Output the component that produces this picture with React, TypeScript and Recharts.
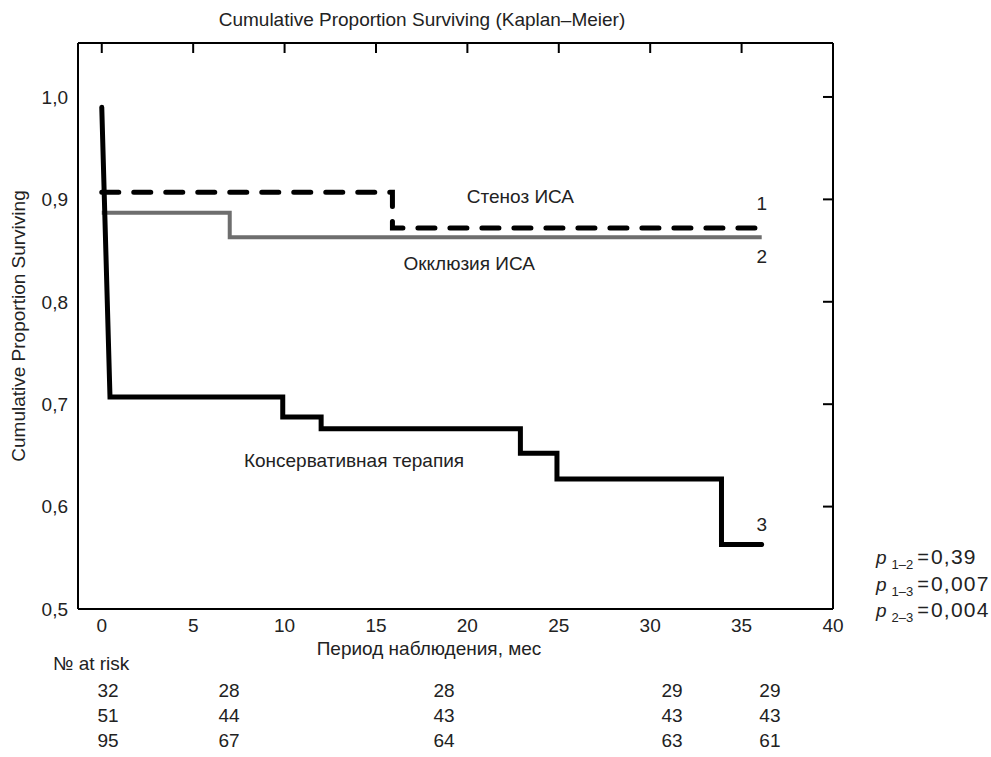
import {
    LineChart,
    Line,
    XAxis,
    YAxis,
    ReferenceDot,
} from "recharts";

// ────────────────────────────────────────────────────────────────────────────────
// Data (read off the Kaplan–Meier plot)
// ────────────────────────────────────────────────────────────────────────────────

// 1 — Стеноз ИСА (dashed)
const stenosisT = [0, 15.9, 15.9, 35.8];
const stenosisS = [0.907, 0.907, 0.872, 0.872];

// 2 — Окклюзия ИСА (grey)
const occlusionT = [0, 7.0, 7.0, 36.1];
const occlusionS = [0.887, 0.887, 0.863, 0.863];

// 3 — Консервативная терапия (black)
const conservT = [0, 0.45, 9.9, 9.9, 12.0, 12.0, 22.9, 22.9, 24.9, 24.9, 33.9, 33.9, 36.1];
const conservS = [0.99, 0.707, 0.707, 0.6875, 0.6875, 0.676, 0.676, 0.652, 0.652, 0.627, 0.627, 0.563, 0.563];

const xTicks = [0, 5, 10, 15, 20, 25, 30, 35, 40];
const yTicks = [0.5, 0.6, 0.7, 0.8, 0.9, 1.0];

const riskTimes = [0.34, 6.96, 18.72, 31.19, 36.55];
const riskStenosis = [32, 28, 28, 29, 29];
const riskOcclusion = [51, 44, 43, 43, 43];
const riskConserv = [95, 67, 64, 63, 61];

const pLabels = ["1–2", "1–3", "2–3"];
const pValues = ["0,39", "0,007", "0,004"];

// ────────────────────────────────────────────────────────────────────────────────
// Layout
// ────────────────────────────────────────────────────────────────────────────────

const W = 991;
const H = 757;
const PLOT_LEFT = 78;
const PLOT_RIGHT = 833;
const PLOT_TOP = 43;
const PLOT_BOTTOM = 609;
const X_DOMAIN: [number, number] = [-1.3, 40];
const Y_DOMAIN: [number, number] = [0.5, 1.0527];
const FONT = "'Liberation Sans', Arial, Helvetica, sans-serif";
const INK = "#222";
const FS = 19;

const toPoints = (t: number[], s: number[]) => t.map((x, i) => ({ t: x, s: s[i] }));

const xPx = (t: number) =>
    PLOT_LEFT + ((t - X_DOMAIN[0]) / (X_DOMAIN[1] - X_DOMAIN[0])) * (PLOT_RIGHT - PLOT_LEFT);

const comma = (v: number) => v.toFixed(1).replace(".", ",");

const NoTick = () => <g />;

function CurveLabel(text: string) {
    return (props: any) => {
        const vb = props.viewBox || {};
        const cx = vb.cx ?? vb.x;
        const cy = vb.cy ?? vb.y;
        return (
            <text x={cx} y={cy} dy="0.36em" textAnchor="middle" fontSize={FS} fill={INK} fontFamily={FONT}>
                {text}
            </text>
        );
    };
}

const curveLabels = [
    { t: 22.9, s: 0.903, text: "Стеноз ИСА" },
    { t: 36.1, s: 0.896, text: "1" },
    { t: 20.1, s: 0.838, text: "Окклюзия ИСА" },
    { t: 36.1, s: 0.845, text: "2" },
    { t: 13.8, s: 0.6455, text: "Консервативная терапия" },
    { t: 36.1, s: 0.583, text: "3" },
];

export default function App() {
    const rows = [riskStenosis, riskOcclusion, riskConserv];
    return (
        <div style={{ position: "absolute", left: 0, top: 0, width: W, height: H, background: "#fff" }}>
            <LineChart
                width={W}
                height={H}
                margin={{ top: PLOT_TOP, right: W - PLOT_RIGHT, left: 0, bottom: H - PLOT_BOTTOM - 30 }}
            >
                <XAxis
                    xAxisId="b"
                    dataKey="t"
                    type="number"
                    domain={X_DOMAIN}
                    ticks={xTicks}
                    allowDataOverflow
                    height={30}
                    tickLine={false}
                    tickSize={0}
                    tickMargin={10}
                    axisLine={{ stroke: "#000", strokeWidth: 2 }}
                    tick={{ fontSize: FS, fill: INK, fontFamily: FONT }}
                />
                <XAxis
                    xAxisId="top"
                    orientation="top"
                    dataKey="t"
                    type="number"
                    domain={X_DOMAIN}
                    ticks={xTicks.slice(0, -1)}
                    allowDataOverflow
                    mirror
                    tick={NoTick}
                    tickSize={10}
                    tickLine={{ stroke: "#000", strokeWidth: 2 }}
                    axisLine={{ stroke: "#000", strokeWidth: 2 }}
                />
                <YAxis
                    yAxisId="l"
                    type="number"
                    domain={Y_DOMAIN}
                    ticks={yTicks}
                    allowDataOverflow
                    width={PLOT_LEFT}
                    tickLine={false}
                    tickSize={0}
                    tickMargin={10}
                    tickFormatter={comma}
                    axisLine={{ stroke: "#000", strokeWidth: 2 }}
                    tick={{ fontSize: FS, fill: INK, fontFamily: FONT }}
                />
                <YAxis
                    yAxisId="r"
                    orientation="right"
                    type="number"
                    domain={Y_DOMAIN}
                    ticks={yTicks.slice(1)}
                    allowDataOverflow
                    mirror
                    tick={NoTick}
                    tickSize={10}
                    tickLine={{ stroke: "#000", strokeWidth: 2 }}
                    axisLine={{ stroke: "#000", strokeWidth: 2 }}
                />

                <Line
                    xAxisId="b"
                    yAxisId="l"
                    data={toPoints(occlusionT, occlusionS)}
                    dataKey="s"
                    type="linear"
                    stroke="#6e6e6e"
                    strokeWidth={4}
                    dot={false}
                    activeDot={false}
                    isAnimationActive={false}
                />
                <Line
                    xAxisId="b"
                    yAxisId="l"
                    data={toPoints(stenosisT, stenosisS)}
                    dataKey="s"
                    type="linear"
                    stroke="#000"
                    strokeWidth={5}
                    strokeDasharray="17 15"
                    strokeLinecap="round"
                    dot={false}
                    activeDot={false}
                    isAnimationActive={false}
                />
                <Line
                    xAxisId="b"
                    yAxisId="l"
                    data={toPoints(conservT, conservS)}
                    dataKey="s"
                    type="linear"
                    stroke="#000"
                    strokeWidth={5}
                    strokeLinecap="round"
                    dot={false}
                    activeDot={false}
                    isAnimationActive={false}
                />

                {curveLabels.map((c) => (
                    <ReferenceDot
                        key={c.text}
                        xAxisId="b"
                        yAxisId="l"
                        x={c.t}
                        y={c.s}
                        r={0}
                        fill="none"
                        stroke="none"
                        label={CurveLabel(c.text)}
                    />
                ))}
            </LineChart>

            <svg
                width={W}
                height={H}
                style={{ position: "absolute", left: 0, top: 0, pointerEvents: "none" }}
                fontFamily={FONT}
                fill={INK}
            >
                <text x={422} y={26} textAnchor="middle" fontSize={FS}>
                    Cumulative Proportion Surviving (Kaplan–Meier)
                </text>
                <text
                    x={0}
                    y={0}
                    transform="translate(25,326) rotate(-90)"
                    textAnchor="middle"
                    fontSize={FS}
                >
                    Cumulative Proportion Surviving
                </text>
                <text x={429} y={655} textAnchor="middle" fontSize={FS}>
                    Период наблюдения, мес
                </text>
                <text x={53} y={670} fontSize={FS}>
                    № at risk
                </text>
                {rows.map((row, r) =>
                    row.map((n, i) => (
                        <text key={`${r}-${i}`} x={xPx(riskTimes[i])} y={697 + r * 25} textAnchor="middle" fontSize={FS}>
                            {n}
                        </text>
                    ))
                )}
                {pLabels.map((lab, i) => (
                    <text key={lab} x={876} y={564 + i * 26.5} fontSize={19}>
                        <tspan fontStyle="italic">p</tspan>
                        <tspan dx={5} dy={5} fontSize={13}>
                            {lab}
                        </tspan>
                        <tspan dx={4} dy={-5} fontSize={20}>
                            =
                        </tspan>
                        <tspan dx={2} fontSize={21} letterSpacing={1.2}>
                            {pValues[i]}
                        </tspan>
                    </text>
                ))}
            </svg>
        </div>
    );
}
